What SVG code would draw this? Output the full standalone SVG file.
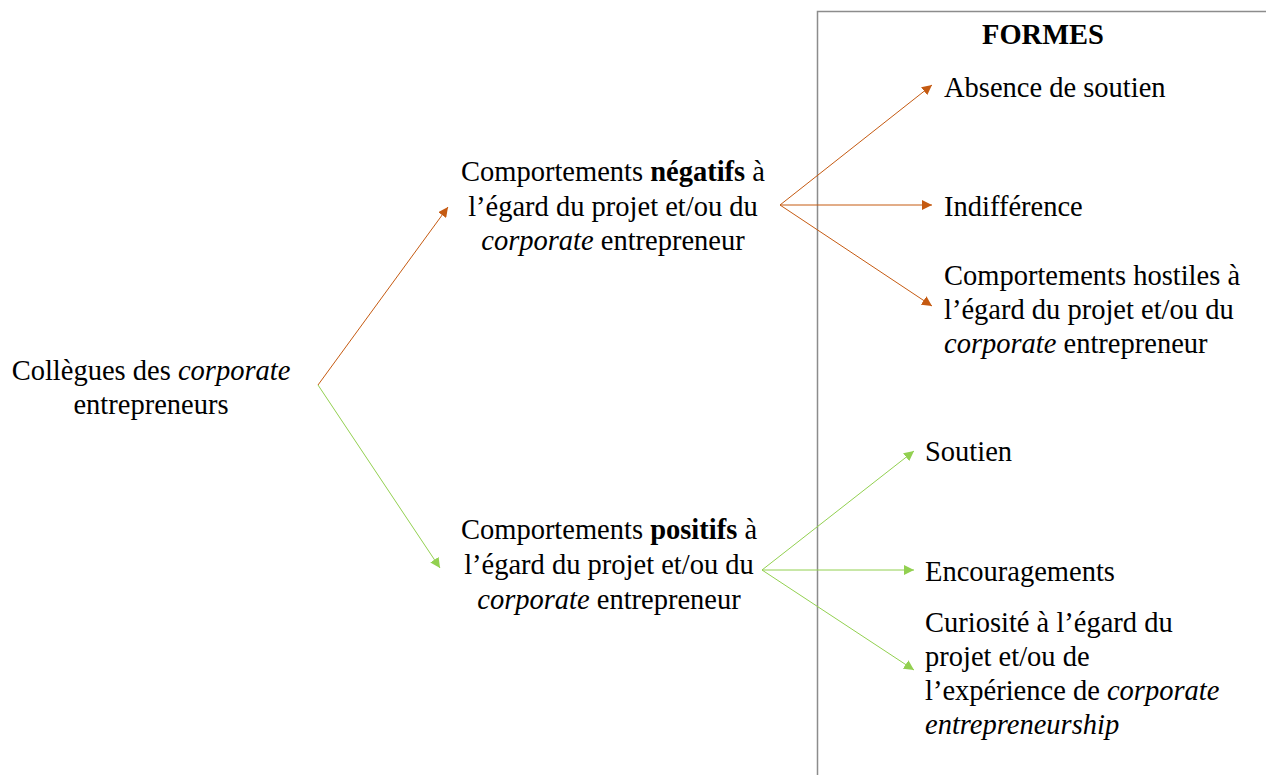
<svg xmlns="http://www.w3.org/2000/svg" width="1266" height="775" viewBox="0 0 1266 775">
<defs>
<style>
text{font-family:"Liberation Serif","Times New Roman",serif;font-size:28.5px;fill:#000}
.b{font-weight:bold}
.i{font-style:italic}
.o{stroke:#C55A11;stroke-width:1;fill:none}
.g{stroke:#92D050;stroke-width:1;fill:none}
</style>
<marker id="ao" viewBox="0 0 10 10" refX="10" refY="5" markerWidth="10" markerHeight="10" markerUnits="userSpaceOnUse" orient="auto"><path d="M0,0 L10,5 L0,10 z" fill="#C55A11"/></marker>
<marker id="ag" viewBox="0 0 10 10" refX="10" refY="5" markerWidth="10" markerHeight="10" markerUnits="userSpaceOnUse" orient="auto"><path d="M0,0 L10,5 L0,10 z" fill="#92D050"/></marker>
</defs>
<rect width="1266" height="775" fill="#fff"/>
<path d="M817.5,775 V11.5 H1266" stroke="#8c8c8c" stroke-width="1.5" fill="none"/>
<g id="connectors">
<path class="o" d="M318,385 L448,207" marker-end="url(#ao)"/>
<path class="g" d="M318,385 L440,568" marker-end="url(#ag)"/>
<path class="o" d="M780,205 L932,85" marker-end="url(#ao)"/>
<path class="o" d="M780,205 L932,205" marker-end="url(#ao)"/>
<path class="o" d="M780,205 L932,306" marker-end="url(#ao)"/>
<path class="g" d="M762,570 L914,451" marker-end="url(#ag)"/>
<path class="g" d="M762,570 L914,570" marker-end="url(#ag)"/>
<path class="g" d="M762,570 L914,670" marker-end="url(#ag)"/>
</g>
<g id="colleagues" text-anchor="middle">
<text x="151" y="380">Collègues des <tspan class="i">corporate</tspan></text>
<text x="151" y="414">entrepreneurs</text>
</g>
<g id="negatifs" text-anchor="middle">
<text x="613" y="181">Comportements <tspan class="b">négatifs</tspan> à</text>
<text x="613" y="216">l’égard du projet et/ou du</text>
<text x="613" y="250"><tspan class="i">corporate</tspan> entrepreneur</text>
</g>
<g id="positifs" text-anchor="middle">
<text x="609" y="539">Comportements <tspan class="b">positifs</tspan> à</text>
<text x="609" y="574">l’égard du projet et/ou du</text>
<text x="609" y="609"><tspan class="i">corporate</tspan> entrepreneur</text>
</g>
<g id="formes">
<text class="b" x="1043" y="44" text-anchor="middle">FORMES</text>
</g>
<g id="absence"><text x="944" y="97">Absence de soutien</text></g>
<g id="indifference"><text x="944" y="216">Indifférence</text></g>
<g id="hostiles">
<text x="944" y="285">Comportements hostiles à</text>
<text x="944" y="319">l’égard du projet et/ou du</text>
<text x="944" y="353"><tspan class="i">corporate</tspan> entrepreneur</text>
</g>
<g id="soutien"><text x="925" y="461">Soutien</text></g>
<g id="encouragements"><text x="925" y="581">Encouragements</text></g>
<g id="curiosite">
<text x="925" y="632">Curiosité à l’égard du</text>
<text x="925" y="666">projet et/ou de</text>
<text x="925" y="700">l’expérience de <tspan class="i">corporate</tspan></text>
<text x="925" y="734" class="i">entrepreneurship</text>
</g>
</svg>
